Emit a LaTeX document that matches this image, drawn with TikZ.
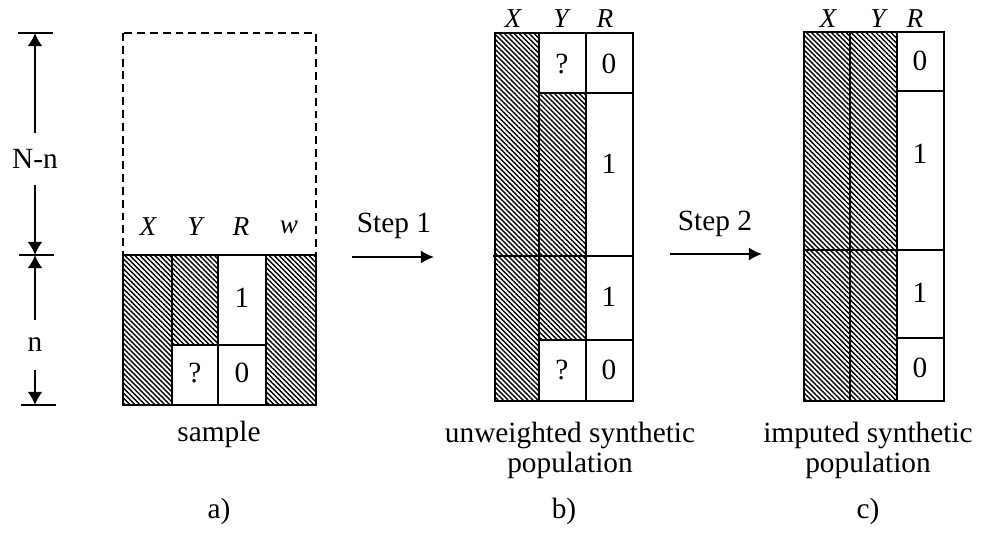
\documentclass[tikz,border=0pt]{standalone}
\usepackage{fontspec}
\setmainfont{Liberation Serif}
\usetikzlibrary{arrows.meta, patterns.meta}

\begin{document}
\begin{tikzpicture}[
    x=0.02cm, y=-0.02cm,
    font=\fontsize{16.7}{17}\selectfont,
    % Cell styles
    hatchbox/.style={draw=black, line width=0.8pt,
        pattern={Lines[angle=-45, distance=2pt, line width=0.8pt]}},
    plainbox/.style={draw=black, line width=0.8pt, fill=white},
    dashbox/.style={draw=black, line width=0.8pt, dash pattern=on 4.5pt off 2.8pt},
    cellline/.style={draw=black, line width=0.8pt},
    varlabel/.style={font=\fontsize{15.5}{18}\selectfont\itshape, inner sep=1pt},
    celltext/.style={inner sep=1pt},
    caption/.style={align=center, inner sep=1pt},
    dimtick/.style={line width=1pt},
    dimlabel/.style={inner sep=0pt},
    dimarrow/.style={-{Latex[length=7.5pt, width=8.5pt]}, line width=1.1pt},
    steparrow/.style={-{Latex[length=7.5pt, width=7.5pt]}, line width=1.1pt},
]
\useasboundingbox (0,0) rectangle (983,538);

% ============ Dimension arrows (N-n, n) ============
\coordinate (tTop) at (35,33);
\coordinate (tMid) at (35,255);
\coordinate (tBot) at (35,405);
\draw[dimtick] (18,33) -- (53,33);
\draw[dimtick] (19,255) -- (54,255);
\draw[dimtick] (21,405) -- (56,405);

\node[dimlabel, minimum height=29pt] (Nn) at (35,159) {N-n};
\node[dimlabel, minimum height=28pt] (nn) at (35,345) {n};

\draw[dimarrow] (Nn) -- (tTop);
\draw[dimarrow] (Nn) -- (tMid);
\draw[dimarrow] (nn) -- (tMid);
\draw[dimarrow] (nn) -- (tBot);

% ============ a) sample ============
\draw[dashbox] (123,33) rectangle (316,255);
\draw[hatchbox] (123,255) rectangle (172,405);
\draw[hatchbox] (172,255) rectangle (218,345);
\draw[plainbox] (172,345) rectangle (218,405);
\draw[plainbox] (218,255) rectangle (266,345);
\draw[plainbox] (218,345) rectangle (266,405);
\draw[hatchbox] (266,255) rectangle (316,405);

\node[varlabel] (aX) at (148,227) {X};
\node[varlabel] (aY) at (195,227) {Y};
\node[varlabel] (aR) at (241,227) {R};
\node[varlabel] (aw) at (289,227) {w};

\node[celltext] (aR1) at (242,298) {1};
\node[celltext] (aYq) at (195,373) {?};
\node[celltext] (aR0) at (242,373) {0};

\node[caption] (acap) at (219,434) {sample};
\node[caption] (alab) at (219,511) {a)};

% ============ Step 1 ============
\coordinate (s1from) at (352,257);
\coordinate (s1to) at (434,257);
\draw[steparrow] (s1from) -- (s1to);
\node[caption] (s1lab) at (394,226) {Step 1};

% ============ b) unweighted synthetic population ============
\draw[hatchbox] (495,33) rectangle (539,401);
\draw[plainbox] (539,33) rectangle (586,93);
\draw[hatchbox] (539,93) rectangle (586,340);
\draw[plainbox] (539,340) rectangle (586,401);
\draw[plainbox] (586,33) rectangle (633,93);
\draw[plainbox] (586,93) rectangle (633,256);
\draw[plainbox] (586,256) rectangle (633,340);
\draw[plainbox] (586,340) rectangle (633,401);
\draw[cellline] (493,256) -- (586,256);

\node[varlabel] (bX) at (513,19) {X};
\node[varlabel] (bY) at (561,19) {Y};
\node[varlabel] (bR) at (605,19) {R};

\node[celltext] (bYq1) at (562,64) {?};
\node[celltext] (bR01) at (609,64) {0};
\node[celltext] (bR11) at (609,164) {1};
\node[celltext] (bR12) at (609,297) {1};
\node[celltext] (bYq2) at (562,370) {?};
\node[celltext] (bR02) at (609,370) {0};

\node[caption] (bcap) at (570,450) {unweighted synthetic\\population};
\node[caption] (blab) at (564,511) {b)};

% ============ Step 2 ============
\coordinate (s2from) at (670,254);
\coordinate (s2to) at (762,254);
\draw[steparrow] (s2from) -- (s2to);
\node[caption] (s2lab) at (715,224) {Step 2};

% ============ c) imputed synthetic population ============
\draw[hatchbox] (804,32) rectangle (850,401);
\draw[hatchbox] (850,32) rectangle (897,401);
\draw[plainbox] (897,32) rectangle (944,91);
\draw[plainbox] (897,91) rectangle (944,250);
\draw[plainbox] (897,250) rectangle (944,338);
\draw[plainbox] (897,338) rectangle (944,401);
\draw[cellline] (804,250) -- (897,250);

\node[varlabel] (cX) at (828,19) {X};
\node[varlabel] (cY) at (878,19) {Y};
\node[varlabel] (cR) at (915,19) {R};

\node[celltext] (cR01) at (920,61) {0};
\node[celltext] (cR11) at (920,154) {1};
\node[celltext] (cR12) at (920,293) {1};
\node[celltext] (cR02) at (920,368) {0};

\node[caption] (ccap) at (868,450) {imputed synthetic\\population};
\node[caption] (clab) at (868,511) {c)};

\end{tikzpicture}
\end{document}
